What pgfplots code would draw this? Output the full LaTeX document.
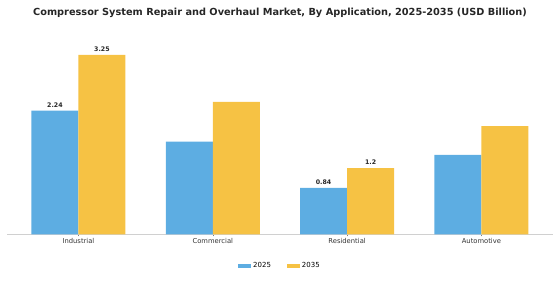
\documentclass[border=0pt]{standalone}
\usepackage{pgfplots}
\pgfplotsset{compat=1.18}
\usepackage{fontspec}
\setmainfont{DejaVu Sans}
\definecolor{cblue}{HTML}{5DADE2}
\definecolor{cyellow}{HTML}{F6C244}
\definecolor{axgray}{HTML}{D0D0D0}
\begin{document}
\begin{tikzpicture}[x=1bp,y=1bp]
\path[use as bounding box] (0,0) rectangle (560,280);
\node[font=\bfseries\fontsize{9.8}{11}\selectfont, text=black!85] at (280,267.5) {Compressor System Repair and Overhaul Market, By Application, 2025-2035 (USD Billion)};
\begin{axis}[
  at={(7.3bp,45.7bp)}, anchor=south west,
  scale only axis,
  width=545.3bp, height=198.7bp,
  xmin=-0.53, xmax=3.53, ymin=0, ymax=3.6,
  axis x line*=bottom, axis y line=none,
  x axis line style={draw=axgray, line width=0.6pt, -},
  xtick={0,1,2,3},
  xticklabels={Industrial,Commercial,Residential,Automotive},
  xtick style={draw=gray, line width=0.4pt},
  major tick length=2bp,
  tick align=outside,
  ticklabel style={font=\fontsize{6.8}{8}\selectfont, text=black!80},
  xticklabel style={yshift=1bp},
  ybar, bar width=47bp,
  legend style={at={(0.5,-0.12)}, anchor=north, draw=none, fill=none,
    font=\fontsize{7}{8}\selectfont, legend columns=2,
    /tikz/every even column/.append style={column sep=14bp}},
  legend image code/.code={\draw[#1, draw=none] (0bp,-2bp) rectangle (13bp,2bp);},
  nodes near coords style={font=\bfseries\fontsize{6.3}{7}\selectfont, text=black!85},
]
\addplot[fill=cblue, draw=none, bar shift=-23.5bp,
  nodes near coords, point meta=explicit symbolic]
  coordinates {(0,2.24)[2.24] (1,1.68)[] (2,0.84)[0.84] (3,1.44)[]};
\addplot[fill=cyellow, draw=none, bar shift=23.5bp,
  nodes near coords, point meta=explicit symbolic]
  coordinates {(0,3.25)[3.25] (1,2.40)[] (2,1.20)[1.2] (3,1.96)[]};
\legend{2025,2035}
\end{axis}
\end{tikzpicture}
\end{document}
